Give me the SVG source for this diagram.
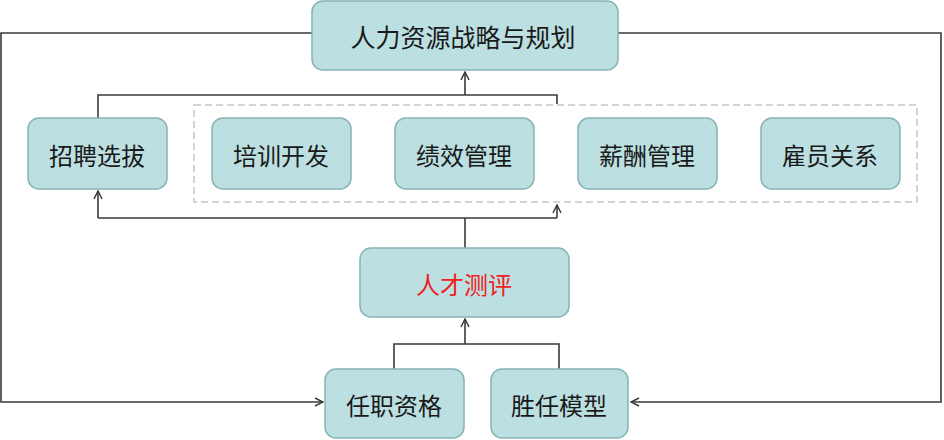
<svg xmlns="http://www.w3.org/2000/svg" width="944" height="440" viewBox="0 0 944 440">
<defs>
<style>
.box{fill:#bce0e2;stroke:#86b3b5;stroke-width:1.5}
.t{font-family:"Noto Sans CJK SC","Noto Sans",sans-serif;font-size:24px;fill:#1a1a1a;text-anchor:middle;dominant-baseline:central}
.c{fill:none;stroke:#3a3a3a;stroke-width:1.6}
.dash{fill:none;stroke:#d4d4d4;stroke-width:2;stroke-dasharray:7 4}
</style>
<marker id="arr" viewBox="0 0 10 10" refX="9" refY="5" markerWidth="10" markerHeight="10" markerUnits="userSpaceOnUse" orient="auto">
<path d="M1,1 L9,5 L1,9" fill="none" stroke="#3a3a3a" stroke-width="1.5"/>
</marker>
</defs>
<rect x="0" y="0" width="944" height="440" fill="#fff"/>
<rect class="dash" x="194" y="105" width="723" height="97"/>
<g id="connectors">
<path class="c" d="M312,33 H1 V402 H323" marker-end="url(#arr)"/>
<path class="c" d="M618,33 H941 V402 H631" marker-end="url(#arr)"/>
<path class="c" d="M98,118 V95 H557 V104"/>
<path class="c" d="M465,95 V72" marker-end="url(#arr)"/>
<path class="c" d="M465,248 V218"/>
<path class="c" d="M98,218 H557"/>
<path class="c" d="M98,218 V191" marker-end="url(#arr)"/>
<path class="c" d="M557,218 V205" marker-end="url(#arr)"/>
<path class="c" d="M394,369 V344 H559 V369"/>
<path class="c" d="M465,344 V319" marker-end="url(#arr)"/>
</g>
<g id="n-strategy"><rect class="box" x="312" y="1" width="306" height="69" rx="11"/><text class="t" x="463" y="36" style="font-size:25px">人力资源战略与规划</text></g>
<g id="n-recruit"><rect class="box" x="28" y="118" width="139" height="71" rx="11"/><text class="t" x="97" y="154">招聘选拔</text></g>
<g id="n-train"><rect class="box" x="212" y="118" width="139" height="71" rx="11"/><text class="t" x="281" y="154">培训开发</text></g>
<g id="n-perf"><rect class="box" x="395" y="118" width="139" height="71" rx="11"/><text class="t" x="464" y="154">绩效管理</text></g>
<g id="n-pay"><rect class="box" x="578" y="118" width="139" height="71" rx="11"/><text class="t" x="647" y="154">薪酬管理</text></g>
<g id="n-rel"><rect class="box" x="761" y="118" width="139" height="71" rx="11"/><text class="t" x="830" y="154">雇员关系</text></g>
<g id="n-assess"><rect class="box" x="360" y="248" width="209" height="69" rx="11"/><text class="t" x="464" y="283" style="fill:#ee2222">人才测评</text></g>
<g id="n-qual"><rect class="box" x="325" y="369" width="139" height="69" rx="11"/><text class="t" x="394" y="404">任职资格</text></g>
<g id="n-comp"><rect class="box" x="491" y="369" width="137" height="69" rx="11"/><text class="t" x="559" y="404">胜任模型</text></g>
</svg>
